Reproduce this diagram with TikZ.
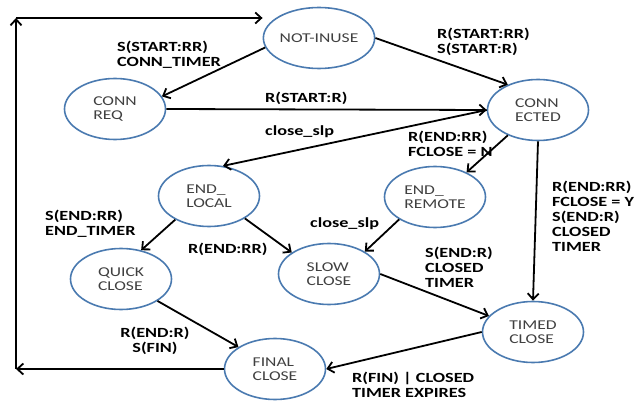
\documentclass[tikz,border=0pt]{standalone}
\usepackage{fontspec}
\setmainfont{Carlito}[FakeStretch=1.3]
\usepackage{xcolor}
\usepackage{tikz}
\usetikzlibrary{shapes,arrows,positioning}
\usetikzlibrary{arrows.meta,calc}
\definecolor{stateblue}{RGB}{74,122,176}
\definecolor{stategray}{RGB}{64,64,64}
\tikzstyle{state} = [ellipse, draw=stateblue, line width=1.6pt, minimum width=101pt, minimum height=61pt, inner sep=0pt, align=left, text=stategray, font=\fontsize{13.5}{14.5}\selectfont]
\tikzstyle{line} = [draw, -{Straight Barb[length=6pt,width=11pt]}, line width=1.8pt]
\tikzstyle{lbl} = [inner sep=0pt, anchor=north west, align=left, font=\bfseries\fontsize{14}{15}\selectfont]

\begin{document}
\begin{tikzpicture}[x=1pt,y=-1pt]
   		\useasboundingbox (0,0) rectangle (642,403);
   		% states
   		\node (notinuse)   [state] at (319,38)  {NOT-INUSE};
   		\node (connreq)    [state] at (115,109) {CONN\\REQ};
   		\node (connected)  [state] at (538,110) {CONN\\ECTED};
   		\node (endlocal)   [state] at (209,196) {END\_\\LOCAL};
   		\node (endremote)  [state] at (435,197) {END\_\\REMOTE};
   		\node (quickclose) [state] at (121,279) {QUICK\\CLOSE};
   		\node (slowclose)  [state] at (329,274) {SLOW\\CLOSE};
   		\node (timedclose) [state] at (533,332) {TIMED\\CLOSE};
   		\node (finalclose) [state] at (275,369) {FINAL\\CLOSE};
   		\coordinate (cornerbl) at (16,369); % loop back, bottom
   		\coordinate (cornertl) at (16,18);  % loop back, top
   		
   		% transitions
   		\draw[line] (notinuse.190)   -- (connreq.15);
   		\draw[line] (notinuse.east)  -- (connected.140);
   		\draw[line] (connreq.east)   -- (connected.west);
   		\draw[line] (connected.west) -- (endlocal.65);
   		\draw[line] (connected.220)  -- (endremote.38);
   		\draw[line] (connected.south) -- (timedclose.north);
   		\draw[line] (endlocal.215)   -- (quickclose.55);
   		\draw[line] (endlocal.328)   -- (slowclose.150);
   		\draw[line] (endremote.212)  -- (slowclose.32);
   		\draw[line] (slowclose.east) -- (timedclose.160);
   		\draw[line] (quickclose.329) -- (finalclose.149);
   		\draw[line] (timedclose.west) -- (finalclose.east);
   		\draw[line] (finalclose.west) -- (cornerbl);
   		\draw[line] (cornerbl) -- (cornertl);
   		\draw[line] (cornertl) -- (notinuse.west |- cornertl);
   		
   		% labels
   		\node (lconnreq)   [lbl] at (117,41)  {S(START:RR)\\CONN\_TIMER};
   		\node (lconnected) [lbl] at (437,28)  {R(START:RR)\\S(START:R)};
   		\node (lstartr)    [lbl] at (265,92)  {R(START:R)};
   		\node (lcloseslp)  [lbl] at (265,125) {close\_slp};
   		\node (lfclosen)   [lbl] at (408,131) {R(END:RR)\\FCLOSE = N};
   		\node (lfclosey)   [lbl] at (552,181) {R(END:RR)\\FCLOSE = Y\\S(END:R)\\CLOSED\\TIMER};
   		\node (lendtimer)  [lbl] at (45,210)  {S(END:RR)\\END\_TIMER};
   		\node (lendrr)     [lbl] at (188,243) {R(END:RR)};
   		\node (lcloseslpb) [lbl] at (310,217) {close\_slp};
   		\node (lclosedtm)  [lbl] at (425,247) {S(END:R)\\CLOSED\\TIMER};
   		\node (lfin)       [lbl, anchor=north, align=center] at (155,327) {R(END:R)\\S(FIN)};
   		\node (lexpires)   [lbl] at (352,372) {R(FIN) | CLOSED\\TIMER EXPIRES};
   		
\end{tikzpicture}
\end{document}
